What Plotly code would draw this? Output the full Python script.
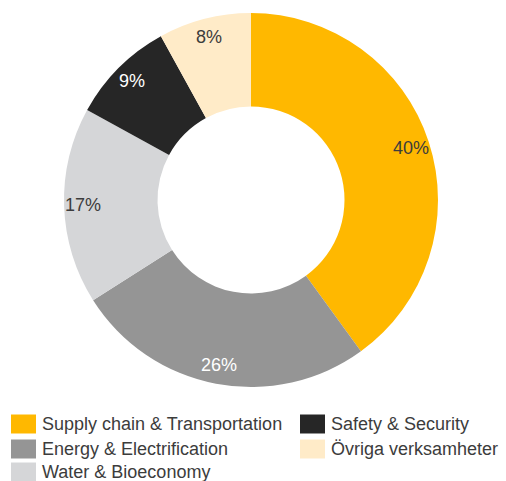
import math
import plotly.graph_objects as go

# Data
segments = ["Supply chain & Transportation", "Energy & Electrification",
            "Water & Bioeconomy", "Safety & Security", "Övriga verksamheter"]
shares = [40, 26, 17, 9, 8]
colors = ["#FFB800", "#959595", "#D5D6D8", "#262626", "#FFEBC8"]
label_colors = ["#3c3c3c", "#ffffff", "#3c3c3c", "#ffffff", "#3c3c3c"]

# Legend order as shown (row-major, two columns)
legend_order = ["Supply chain & Transportation", "Safety & Security",
                "Energy & Electrification", "Övriga verksamheter",
                "Water & Bioeconomy"]

W, H = 506, 481
cx, cy, R = 251, 200, 187  # pixel centre / radius of the donut
FONT = "Liberation Sans, Arial, sans-serif"

fig = go.Figure(go.Pie(
    labels=segments,
    values=shares,
    hole=0.5,
    sort=False,
    direction="clockwise",
    rotation=0,
    marker=dict(colors=colors, line=dict(width=0)),
    textinfo="none",
    hoverinfo="label+percent",
    showlegend=False,
    domain=dict(x=[(cx - R) / W, (cx + R) / W],
                y=[1 - (cy + R) / H, 1 - (cy - R) / H]),
))

# percentage labels near the outer edge of each slice
annotations = []
total = sum(shares)
start = 0.0
for val, tc in zip(shares, label_colors):
    mid = (start + val / 2) / total * 2 * math.pi
    start += val
    r = 0.9 * R
    px_ = cx + r * math.sin(mid)
    py_ = cy - r * math.cos(mid)
    annotations.append(dict(
        x=px_ / W, y=1 - py_ / H, xref="paper", yref="paper",
        text=f"{val}%", showarrow=False,
        font=dict(family=FONT, size=18, color=tc),
        xanchor="center", yanchor="middle",
    ))

# manual legend: two columns, row-major
shapes = []
col_x = [11, 300]
row_y = [424, 449, 472]
for i, name in enumerate(legend_order):
    col, row = i % 2, i // 2
    x0 = col_x[col]
    yc = row_y[row]
    c = colors[segments.index(name)]
    shapes.append(dict(
        type="rect", xref="paper", yref="paper",
        x0=x0 / W, x1=(x0 + 25) / W,
        y0=1 - (yc + 9.5) / H, y1=1 - (yc - 9.5) / H,
        fillcolor=c, line=dict(width=0),
    ))
    annotations.append(dict(
        x=(x0 + 29) / W, y=1 - yc / H, xref="paper", yref="paper",
        text=name, showarrow=False,
        font=dict(family=FONT, size=18, color="#3c3c3c"),
        xanchor="left", yanchor="middle",
    ))

fig.update_layout(
    width=W, height=H,
    margin=dict(l=0, r=0, t=0, b=0),
    paper_bgcolor="white",
    plot_bgcolor="white",
    annotations=annotations,
    shapes=shapes,
)

# drop the browser's default body margin so the figure sits at 0,0
fig.write_html("out.html", config={"displayModeBar": False},
               post_script="document.body.style.margin='0';")
